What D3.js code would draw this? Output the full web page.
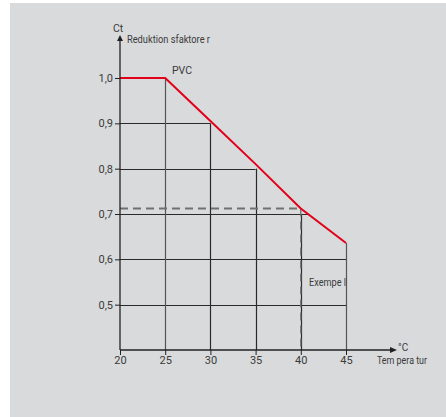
<!DOCTYPE html>
<html><head><meta charset="utf-8">
<script src="https://cdn.jsdelivr.net/npm/d3@7"></script>
<style>
html,body{margin:0;padding:0;background:#fff;}
svg{display:block;}
text{font-family:Roboto,"Open Sans","DejaVu Sans",sans-serif;fill:#3a3a3a;}
</style></head>
<body>
<script>
const temps = [20, 25, 30, 35, 40, 45];
const factors = [1.0, 1.0, 0.905, 0.81, 0.712, 0.636];
const xTicks = [20, 25, 30, 35, 40, 45];
const yTicks = [0.5, 0.6, 0.7, 0.8, 0.9, 1.0];
const exampleTemp = 40;
const exampleFactor = 0.712;
const labels = {yTitle: "Ct", yName: "Reduktion sfaktore r", xTitle: "°C", xName: "Tem pera tur", series: "PVC", example: "Exempe l"};

const W = 446, H = 417;
const svg = d3.select("body").append("svg").attr("width", W).attr("height", H);
svg.append("rect").attr("x", 10).attr("y", 3).attr("width", W - 10).attr("height", H - 3).attr("fill", "#d9dadc");

const x = d3.scaleLinear().domain([20, 45]).range([120, 346]);
const y = d3.scaleLinear().domain([0.4, 1.0]).range([350, 78]);

const curveAt = t => {
  for (let i = 0; i < temps.length - 1; i++) {
    if (t >= temps[i] && t <= temps[i + 1]) {
      const f = (t - temps[i]) / (temps[i + 1] - temps[i]);
      return factors[i] + f * (factors[i + 1] - factors[i]);
    }
  }
  return factors[factors.length - 1];
};
const tempAt = v => {
  for (let i = 0; i < temps.length - 1; i++) {
    const a = factors[i], b = factors[i + 1];
    if (v <= a && v >= b && a !== b) return temps[i] + (a - v) / (a - b) * (temps[i + 1] - temps[i]);
  }
  return 45;
};

const g = svg.append("g");
// horizontal grid lines
yTicks.filter(v => v < 1.0).forEach(v => {
  const xe = v <= factors[factors.length - 1] ? 45 : Math.min(45, v >= 0.9 ? 30 : v >= 0.8 ? 35 : tempAt(v));
  g.append("line").attr("x1", x(20)).attr("x2", x(xe)).attr("y1", Math.round(y(v)) + 0.5).attr("y2", Math.round(y(v)) + 0.5)
    .attr("stroke", "#2a2a2a").attr("stroke-width", 1);
});
// vertical grid lines
xTicks.filter(t => t > 20).forEach(t => {
  let top = curveAt(t);
  if (t === 30) top = 0.9;
  if (t === 35) top = 0.8;
  if (t === 40) top = 0.7;
  g.append("line").attr("x1", Math.round(x(t)) + 0.5).attr("x2", Math.round(x(t)) + 0.5).attr("y1", y(top)).attr("y2", y(0.4))
    .attr("stroke", (t === 25 || t === 45) ? "#555" : "#2a2a2a").attr("stroke-width", 1.2);
});
// dashed example lines
g.append("line").attr("x1", x(20)).attr("x2", x(exampleTemp)).attr("y1", y(exampleFactor)).attr("y2", y(exampleFactor))
  .attr("stroke", "#707070").attr("stroke-width", 2).attr("stroke-dasharray", "8,5");
g.append("line").attr("x1", x(exampleTemp)).attr("x2", x(exampleTemp)).attr("y1", y(exampleFactor)).attr("y2", y(0.4))
  .attr("stroke", "#707070").attr("stroke-width", 1.3).attr("stroke-dasharray", "8,5");

// curve
g.append("path").datum(temps.map((t, i) => [t, factors[i]]))
  .attr("d", d3.line().x(d => x(d[0])).y(d => y(d[1])))
  .attr("fill", "none").attr("stroke", "#e2001a").attr("stroke-width", 2);

// axes
const yAxis = d3.axisLeft(y).tickValues(yTicks).tickSize(5).tickFormat(d => d3.format(".1f")(d).replace(".", ","));
const ya = svg.append("g").attr("transform", `translate(${x(20)},0)`).call(yAxis);
ya.select(".domain").remove();
ya.selectAll("line").attr("stroke", "#222");
ya.selectAll("text").attr("font-size", 11).attr("fill", "#444").attr("x", -7);

const xAxis = d3.axisBottom(x).tickValues(xTicks).tickSize(5).tickFormat(d3.format("d"));
const xa = svg.append("g").attr("transform", `translate(0,${y(0.4)})`).call(xAxis);
xa.select(".domain").remove();
xa.selectAll("line").attr("stroke", "#222");
xa.selectAll("text").attr("font-size", 11).attr("fill", "#444").attr("y", 6);

// axis lines with arrows
svg.append("line").attr("x1", x(20)).attr("x2", x(20)).attr("y1", y(0.4)).attr("y2", 40).attr("stroke", "#222").attr("stroke-width", 1.3);
svg.append("path").attr("d", `M${x(20)},35 L${x(20) - 3},41 L${x(20) + 3},41 Z`).attr("fill", "#222");
svg.append("line").attr("x1", x(20)).attr("x2", 392).attr("y1", y(0.4)).attr("y2", y(0.4)).attr("stroke", "#222").attr("stroke-width", 1.3);
svg.append("path").attr("d", `M397,${y(0.4)} L390,${y(0.4) - 3} L390,${y(0.4) + 3} Z`).attr("fill", "#222");

// labels
svg.append("text").attr("x", 113).attr("y", 32).attr("font-size", 10.5).text(labels.yTitle);
svg.append("text").attr("x", 127).attr("y", 43).attr("font-size", 10).attr("textLength", 83).attr("lengthAdjust", "spacingAndGlyphs").text(labels.yName);
svg.append("text").attr("x", 172).attr("y", 74).attr("font-size", 10.5).text(labels.series);
svg.append("text").attr("x", 398).attr("y", 351).attr("font-size", 10).text(labels.xTitle);
svg.append("text").attr("x", 377).attr("y", 364).attr("font-size", 10).attr("textLength", 50).attr("lengthAdjust", "spacingAndGlyphs").text(labels.xName);
svg.append("text").attr("x", 309).attr("y", 286).attr("font-size", 10).attr("textLength", 37).attr("lengthAdjust", "spacingAndGlyphs").text(labels.example);
</script>
</body></html>
